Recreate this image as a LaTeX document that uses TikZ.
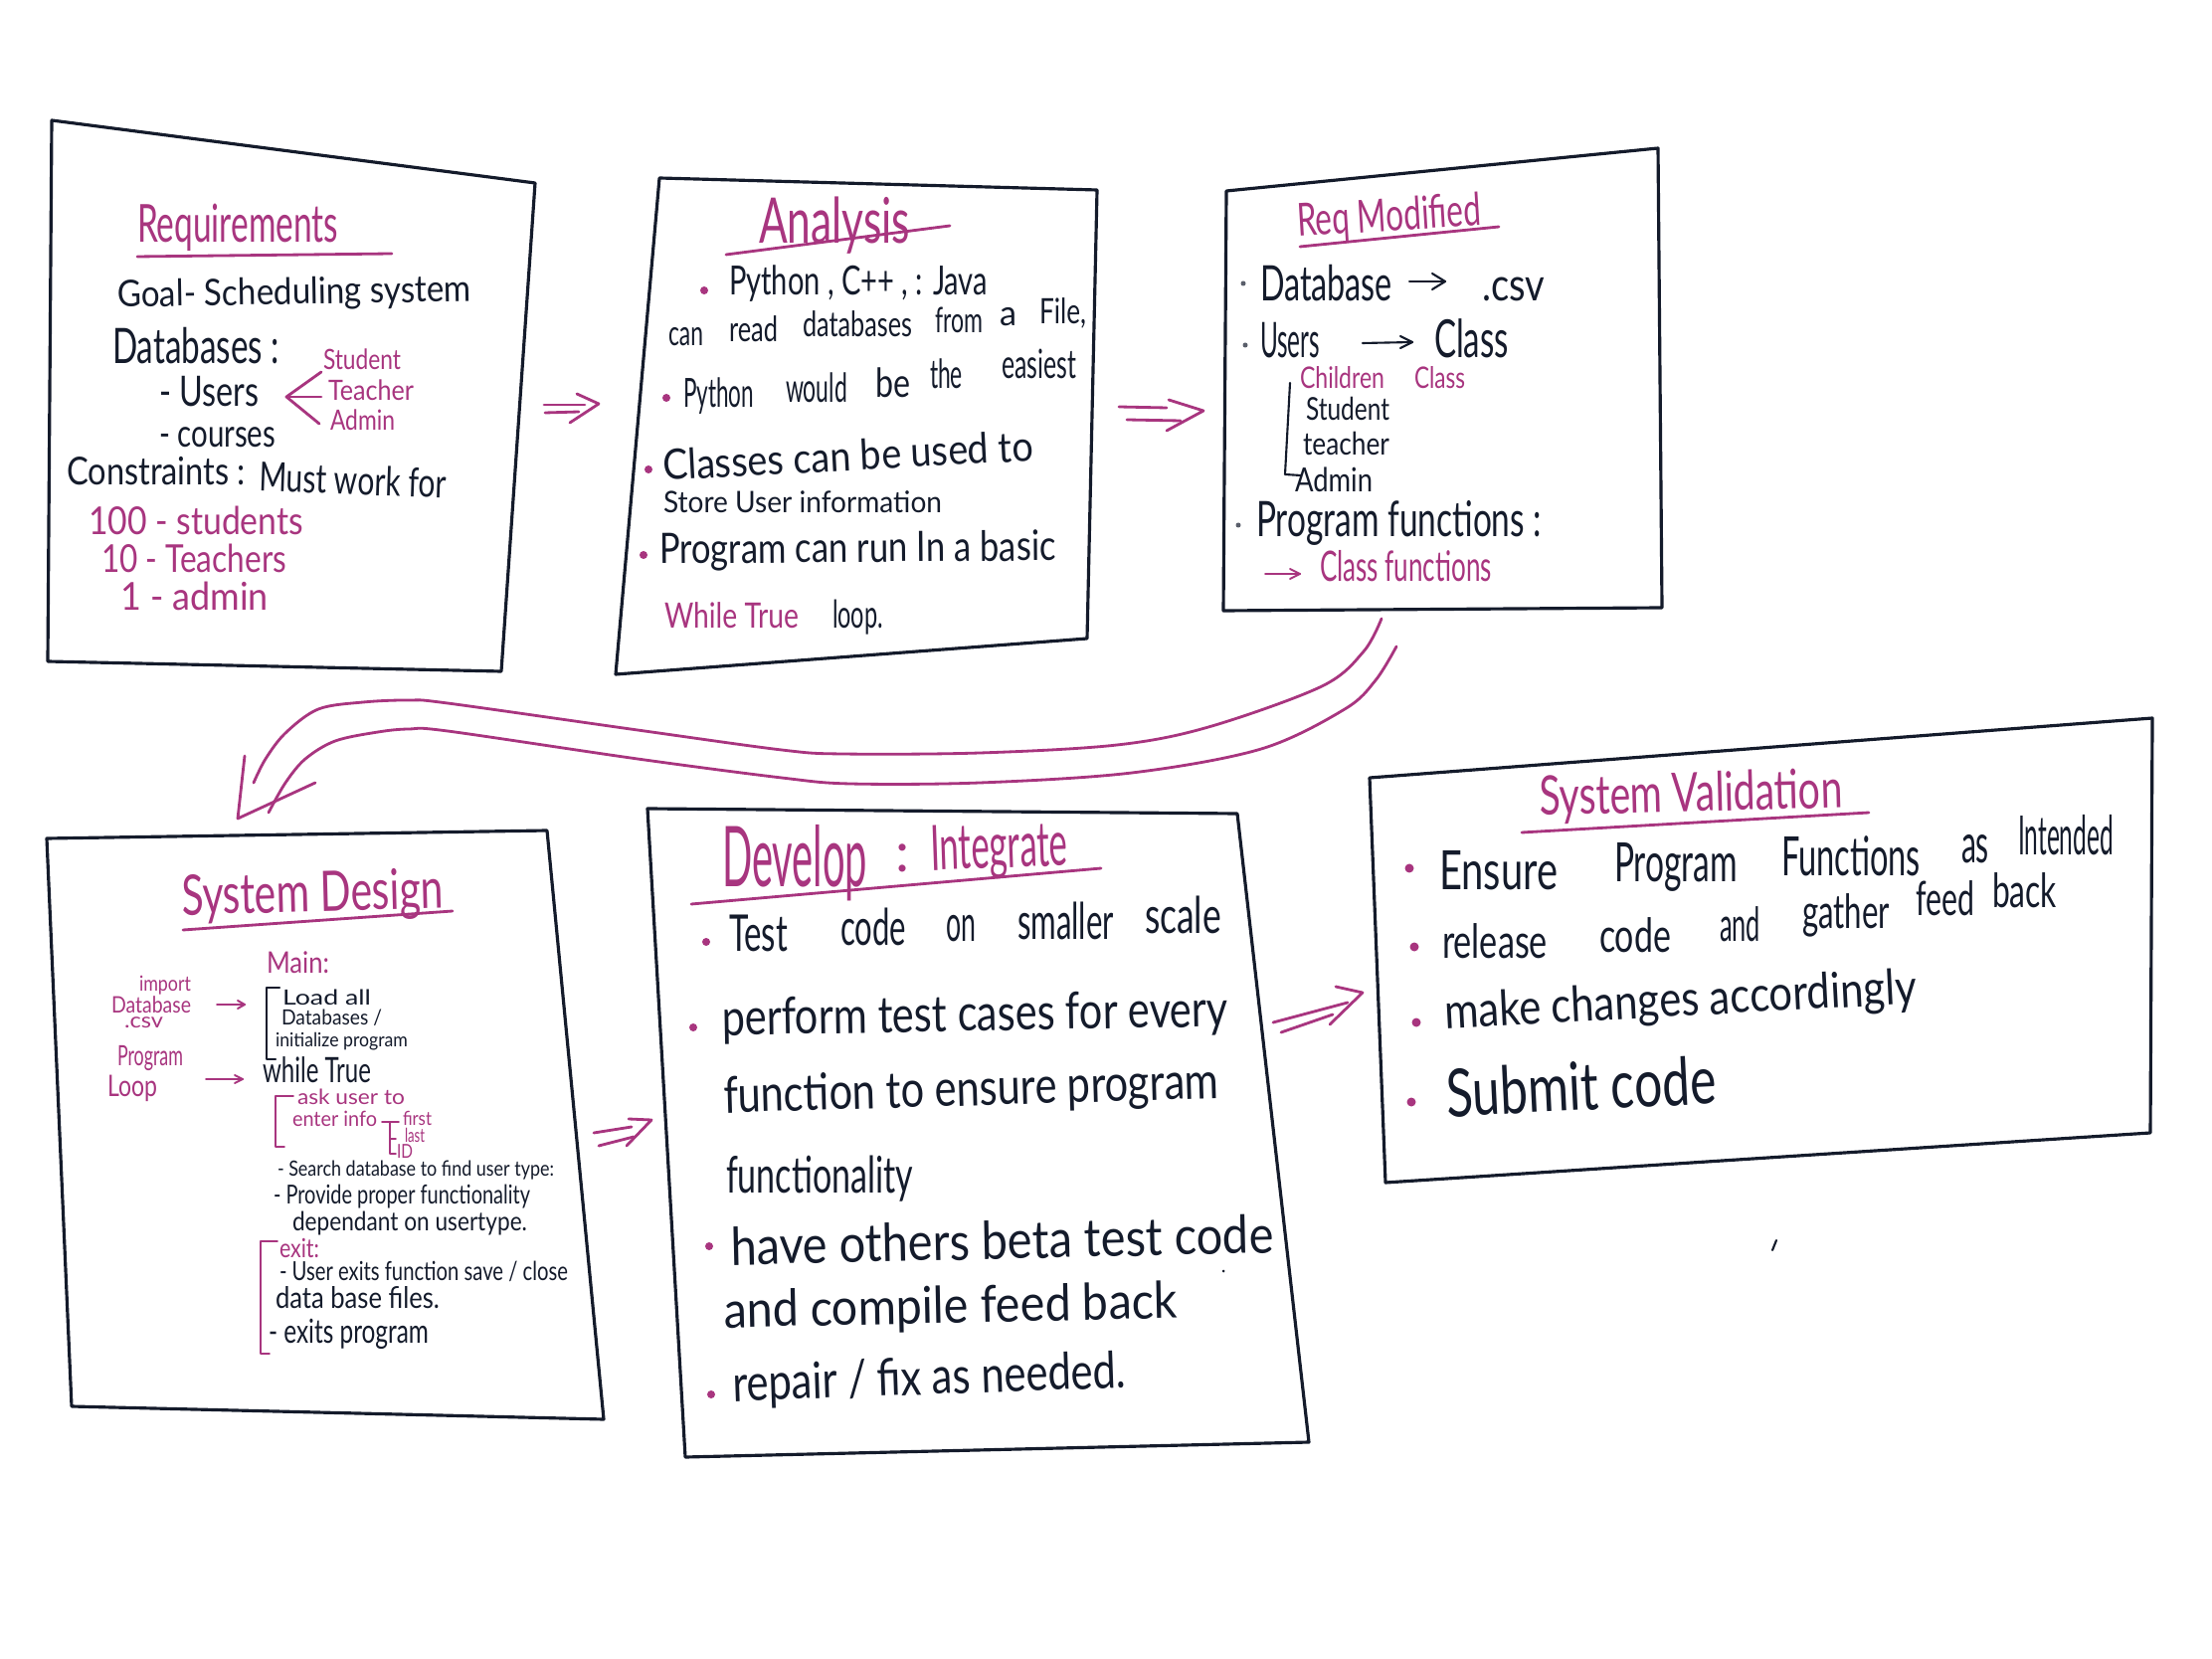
\documentclass[tikz,border=0pt]{standalone}
\usepackage{fontspec}
\setmainfont{Lato}
\usetikzlibrary{calc}
\definecolor{ink}{HTML}{141B2B}
\definecolor{mag}{HTML}{A8357F}
\newlength\pxu \setlength\pxu{0.1mm}
% fit a line of text to a given width (in drawing units), keeping its height
\newcommand\fw[2]{\resizebox{#1\pxu}{\height}{#2}}
\newcommand\hsz[1]{\fontsize{#1}{#1}\selectfont}

\begin{document}
\begin{tikzpicture}[x=0.1mm,y=-0.1mm,
  tx/.style={anchor=base west,inner sep=0pt,outer sep=0pt,text=ink},
  mg/.style={tx,text=mag},
  frame/.style={draw=ink,line width=0.9pt,line join=round},
  pen/.style={draw=mag,line width=0.8pt,line cap=round,line join=round},
  thinpen/.style={draw=mag,line width=0.55pt,line cap=round,line join=round},
  inkpen/.style={draw=ink,line width=0.6pt,line cap=round,line join=round},
  blob/.style={fill=mag},
  speck/.style={fill=ink!70}]
\fill[white] (0,0) rectangle (2224,1668);
\useasboundingbox (0,0) rectangle (2224,1668);

% ---------------- frames ----------------
\draw[frame] (52,121) -- (538,184) -- (504,675) -- (48,665) -- cycle;
\draw[frame] (663,179) -- (1103,191) -- (1093,642) -- (619,678) -- cycle;
\draw[frame] (1233,192) -- (1667,149) -- (1671,611) -- (1230,614) -- cycle;
\draw[frame] (47,843) -- (550,835) -- (607,1427) -- (72,1414) -- cycle;
\draw[frame] (651,813) -- (1244,818) -- (1316,1450) -- (689,1465) -- cycle;
\draw[frame] (1377,782) -- (2164,722) -- (2162,1139) -- (1393,1189) -- cycle;

% ---------------- Requirements ----------------
\node[mg,font=\hsz{15}] (req) at (138,244) {\fw{202}{Requirements}};
\draw[pen] (138,258) -- (394,255);
\node[tx,font=\hsz{10.5},rotate=1] (goal) at (118,309) {\fw{356}{Goal- Scheduling system}};
\node[tx,font=\hsz{14}] (dbs) at (113,366) {\fw{168}{Databases :}};
\node[mg,font=\hsz{8}] (rstu) at (325,372) {\fw{78}{Student}};
\node[mg,font=\hsz{8}] (rtea) at (330,403) {\fw{86}{Teacher}};
\node[mg,font=\hsz{8}] (radm) at (332,433) {\fw{65}{Admin}};
\node[tx,font=\hsz{12}] (rusr) at (160,409) {\fw{100}{- Users}};
\node[tx,font=\hsz{11}] (rcou) at (160,450) {\fw{117}{- courses}};
\coordinate (ua) at (323,374); \coordinate (ub) at (288,399);
\coordinate (uc) at (321,426); \coordinate (ud) at (323,399);
\draw[pen] (ua) -- (ub) -- (uc); \draw[pen] (ub) -- (ud);
\node[tx,font=\hsz{11}] (cons1) at (67,488) {\fw{180}{Constraints :}};
\node[tx,font=\hsz{11.5},rotate=-2] (cons2) at (260,494) {\fw{188}{Must work for}};
\node[mg,font=\hsz{11}] (c100) at (89,538) {\fw{216}{100 - students}};
\node[mg,font=\hsz{11}] (c10) at (102,576) {\fw{186}{10 - Teachers}};
\node[mg,font=\hsz{11}] (c1) at (121,614) {\fw{149}{1 - admin}};

% ---------------- Analysis ----------------
\node[mg,font=\hsz{18}] (ana) at (763,245) {\fw{152}{Analysis}};
\draw[pen] (730,256) -- (955,227);
\fill[blob] (708,292) circle (4);
\node[tx,font=\hsz{11.5}] (a1) at (733,297) {\fw{260}{Python , C++ , : Java}};
% second and third lines, word by word along rising baselines
\node[tx,font=\hsz{10}] (a2a) at (672,348) {\fw{35}{can}};
\node[tx,font=\hsz{10}] (a2b) at (733,344) {\fw{49}{read}};
\node[tx,font=\hsz{10}] (a2c) at (807,339) {\fw{110}{databases}};
\node[tx,font=\hsz{10}] (a2d) at (940,335) {\fw{48}{from}};
\node[tx,font=\hsz{10}] (a2e) at (1005,328) {\fw{17}{a}};
\node[tx,font=\hsz{10}] (a2f) at (1045,326) {\fw{47}{File,}};
\fill[blob] (670,400) circle (4);
\node[tx,font=\hsz{11.5}] (a3a) at (687,410) {\fw{71}{Python}};
\node[tx,font=\hsz{11.5}] (a3b) at (790,405) {\fw{62}{would}};
\node[tx,font=\hsz{11.5}] (a3c) at (880,400) {\fw{35}{be}};
\node[tx,font=\hsz{11.5}] (a3d) at (935,391) {\fw{33}{the}};
\node[tx,font=\hsz{11.5}] (a3e) at (1007,381) {\fw{75}{easiest}};
\fill[blob] (652,472) circle (4);
\node[tx,font=\hsz{12},rotate=3] (a4) at (667,483) {\fw{373}{Classes can be used to}};
\node[tx,font=\hsz{8.5}] (a5) at (667,516) {\fw{280}{Store User information}};
\fill[blob] (647,558) circle (4);
\node[tx,font=\hsz{12},rotate=0.5] (a6) at (663,567) {\fw{399}{Program can run In a basic}};
\node[mg,font=\hsz{10}] (a7) at (668,632) {\fw{135}{While True}};
\node[tx,font=\hsz{11}] (a8) at (837,632) {\fw{51}{loop.}};

% ---------------- Req Modified ----------------
\node[mg,font=\hsz{13},rotate=3.5] (rm) at (1305,238) {\fw{185}{Req Modified}};
\draw[pen] (1307,248) -- (1507,228);
\fill[speck] (1250,285) circle (2.5);
\node[tx,font=\hsz{14}] (m1) at (1267,303) {\fw{133}{Database}};
\coordinate (m1a) at (1417,283); \coordinate (m1b) at (1453,283);
\draw[inkpen] (m1a) -- (m1b); \draw[inkpen] ($(m1b)+(-13,-8)$) -- (m1b) -- ($(m1b)+(-13,8)$);
\node[tx,font=\hsz{13}] (m2) at (1490,303) {\fw{63}{.csv}};
\fill[speck] (1252,347) circle (2.5);
\node[tx,font=\hsz{14}] (m3) at (1267,360) {\fw{60}{Users}};
\coordinate (m3a) at (1370,345); \coordinate (m3b) at (1420,344);
\draw[inkpen] (m3a) -- (m3b); \draw[inkpen] ($(m3b)+(-12,-6)$) -- (m3b) -- ($(m3b)+(-12,6)$);
\node[tx,font=\hsz{15}] (m4) at (1442,360) {\fw{75}{Class}};
\node[mg,font=\hsz{8.5}] (m5) at (1307,391) {\fw{85}{Children}};
\node[mg,font=\hsz{8.5}] (m6) at (1422,391) {\fw{51}{Class}};
\draw[inkpen] (1297,385) -- (1292,477) -- (1308,478);
\node[tx,font=\hsz{9}] (m7) at (1313,423) {\fw{84}{Student}};
\node[tx,font=\hsz{9}] (m8) at (1310,458) {\fw{87}{teacher}};
\node[tx,font=\hsz{9.5}] (m9) at (1302,495) {\fw{78}{Admin}};
\fill[speck] (1245,528) circle (2.5);
\node[tx,font=\hsz{14}] (m10) at (1263,540) {\fw{287}{Program functions :}};
\coordinate (m11a) at (1272,577); \coordinate (m11b) at (1307,577);
\draw[thinpen] (m11a) -- (m11b); \draw[thinpen] ($(m11b)+(-10,-5)$) -- (m11b) -- ($(m11b)+(-10,5)$);
\node[mg,font=\hsz{12}] (m12) at (1327,585) {\fw{173}{Class functions}};

% ---------------- System Design ----------------
\node[mg,font=\hsz{16},rotate=1.5] (sd) at (183,920) {\fw{263}{System Design}};
\draw[pen] (184,935) -- (455,916);
\node[mg,font=\hsz{8.5}] (d1) at (268,978) {\fw{63}{Main:}};
\node[mg,font=\hsz{6}] (d2) at (140,996) {\fw{52}{import}};
\node[mg,font=\hsz{6.5}] (d3) at (112,1018) {\fw{80}{Database}};
\node[mg,font=\hsz{6}] (d4) at (125,1034) {\fw{39}{.csv}};
\coordinate (d5a) at (218,1010); \coordinate (d5b) at (246,1010);
\draw[thinpen] (d5a) -- (d5b); \draw[thinpen] ($(d5b)+(-7,-4)$) -- (d5b) -- ($(d5b)+(-7,4)$);
\draw[inkpen] (281,993) -- (268,993) -- (268,1065) -- (277,1065);
\node[tx,font=\hsz{6}] (d6) at (284,1010) {\fw{89}{Load all}};
\node[tx,font=\hsz{6}] (d7) at (283,1030) {\fw{101}{Databases /}};
\node[tx,font=\hsz{5.5}] (d8) at (277,1052) {\fw{133}{initialize program}};
\node[mg,font=\hsz{8}] (d9) at (118,1071) {\fw{66}{Program}};
\node[mg,font=\hsz{8.5}] (d10) at (108,1102) {\fw{50}{Loop}};
\coordinate (d11a) at (207,1085); \coordinate (d11b) at (244,1085);
\draw[thinpen] (d11a) -- (d11b); \draw[thinpen] ($(d11b)+(-8,-4)$) -- (d11b) -- ($(d11b)+(-8,4)$);
\node[tx,font=\hsz{10}] (d12) at (264,1088) {\fw{109}{while True}};
\draw[thinpen] (295,1102) -- (277,1102) -- (277,1153) -- (286,1153);
\node[mg,font=\hsz{6}] (d13) at (299,1110) {\fw{108}{ask user to}};
\node[mg,font=\hsz{6}] (d14) at (294,1132) {\fw{85}{enter info}};
\draw[thinpen] (384,1128) -- (401,1128); \draw[thinpen] (392,1128) -- (392,1160) -- (398,1160);
\draw[thinpen] (392,1145) -- (398,1145);
\node[mg,font=\hsz{5.5}] (d15) at (405,1131) {\fw{29}{first}};
\node[mg,font=\hsz{5.5}] (d16) at (407,1148) {\fw{20}{last}};
\node[mg,font=\hsz{5.5}] (d17) at (399,1164) {\fw{16}{ID}};
\node[tx,font=\hsz{6}] (d18) at (279,1182) {\fw{278}{- Search database to find user type:}};
\node[tx,font=\hsz{7.5}] (d19) at (275,1210) {\fw{258}{- Provide proper functionality}};
\node[tx,font=\hsz{7.5}] (d20) at (294,1237) {\fw{236}{dependant on usertype.}};
\draw[thinpen] (279,1248) -- (262,1248) -- (262,1361) -- (271,1361);
\node[mg,font=\hsz{7.5}] (d21) at (281,1264) {\fw{40}{exit:}};
\node[tx,font=\hsz{7.5}] (d22) at (281,1287) {\fw{290}{- User exits function save / close}};
\node[tx,font=\hsz{8.5}] (d23) at (277,1315) {\fw{165}{data base files.}};
\node[tx,font=\hsz{9.5}] (d24) at (270,1350) {\fw{161}{- exits program}};

% ---------------- Develop : Integrate ----------------
\node[mg,font=\hsz{24}] (dv1) at (726,891) {\fw{146}{Develop}};
\node[mg,font=\hsz{16}] (dv2) at (900,876) {:};
\node[mg,font=\hsz{18},rotate=2] (dv3) at (936,875) {\fw{138}{Integrate}};
\draw[pen] (695,909) -- (1107,873);
\fill[blob] (710,947) circle (4);
\node[tx,font=\hsz{14.5}] (v1a) at (733,956) {\fw{59}{Test}};
\node[tx,font=\hsz{14.5}] (v1b) at (845,950) {\fw{66}{code}};
\node[tx,font=\hsz{14.5}] (v1c) at (951,947) {\fw{30}{on}};
\node[tx,font=\hsz{14.5}] (v1d) at (1023,944) {\fw{97}{smaller}};
\node[tx,font=\hsz{14.5}] (v1e) at (1151,938) {\fw{77}{scale}};
\fill[blob] (697,1033) circle (4);
\node[tx,font=\hsz{14.5},rotate=1] (v2) at (726,1041) {\fw{509}{perform test cases for every}};
\node[tx,font=\hsz{14.5},rotate=1.7] (v3) at (728,1119) {\fw{498}{function to ensure program}};
\node[tx,font=\hsz{14.5}] (v4) at (730,1199) {\fw{188}{functionality}};
\fill[blob] (713,1253) circle (4);
\node[tx,font=\hsz{15},rotate=1.3] (v5) at (735,1272) {\fw{546}{have others beta test code}};
\node[tx,font=\hsz{14.5},rotate=1.2] (v6) at (728,1335) {\fw{456}{and compile feed back}};
\fill[blob] (715,1402) circle (4);
\node[tx,font=\hsz{14.5},rotate=2] (v7) at (737,1409) {\fw{396}{repair / fix as needed.}};
\fill[ink] (1230,1278) circle (1.5);

% ---------------- System Validation ----------------
\node[mg,font=\hsz{15.5},rotate=1.5] (sv) at (1548,820) {\fw{305}{System Validation}};
\draw[pen] (1530,837) -- (1879,817);
\fill[blob] (1417,873) circle (4.5);
% first two lines, word by word along rising baselines
\node[tx,font=\hsz{15.5}] (s1a) at (1447,895) {\fw{119}{Ensure}};
\node[tx,font=\hsz{15.5}] (s1b) at (1623,887) {\fw{124}{Program}};
\node[tx,font=\hsz{15.5}] (s1c) at (1791,881) {\fw{140}{Functions}};
\node[tx,font=\hsz{15.5}] (s1d) at (1972,868) {\fw{28}{as}};
\node[tx,font=\hsz{15.5}] (s1e) at (2029,860) {\fw{96}{Intended}};
\fill[blob] (1422,952) circle (4.5);
\node[tx,font=\hsz{13.5}] (s2a) at (1450,963) {\fw{106}{release}};
\node[tx,font=\hsz{13.5}] (s2b) at (1608,957) {\fw{72}{code}};
\node[tx,font=\hsz{13.5}] (s2c) at (1729,947) {\fw{41}{and}};
\node[tx,font=\hsz{13.5}] (s2d) at (1812,933) {\fw{88}{gather}};
\node[tx,font=\hsz{13.5}] (s2e) at (1926,920) {\fw{59}{feed}};
\node[tx,font=\hsz{13.5}] (s2f) at (2003,912) {\fw{65}{back}};
\fill[blob] (1424,1028) circle (4.5);
\node[tx,font=\hsz{14},rotate=3] (s3) at (1453,1034) {\fw{475}{make changes accordingly}};
\fill[blob] (1419,1108) circle (4.5);
\node[tx,font=\hsz{19},rotate=2.8] (s4) at (1455,1123) {\fw{272}{Submit code}};
\coordinate (tk1) at (1782,1257); \coordinate (tk2) at (1786,1247);
\draw[inkpen] (tk1) -- (tk2);

% ---------------- double arrows between steps ----------------
\coordinate (p1a) at (547,407); \coordinate (p1b) at (588,407);
\coordinate (p1c) at (548,415); \coordinate (p1d) at (582,414);
\coordinate (p1e) at (580,396); \coordinate (p1f) at (602,406); \coordinate (p1g) at (573,425);
\draw[pen] (p1a) -- (p1b); \draw[pen] (p1c) -- (p1d); \draw[pen] (p1e) -- (p1f) -- (p1g);

\coordinate (p2a) at (1125,409); \coordinate (p2b) at (1173,410);
\coordinate (p2c) at (1133,422); \coordinate (p2d) at (1187,423);
\coordinate (p2e) at (1175,402); \coordinate (p2f) at (1210,413); \coordinate (p2g) at (1173,433);
\draw[pen] (p2a) -- (p2b); \draw[pen] (p2c) -- (p2d); \draw[pen] (p2e) -- (p2f) -- (p2g);

\coordinate (p3a) at (597,1139); \coordinate (p3b) at (635,1133);
\coordinate (p3c) at (602,1152); \coordinate (p3d) at (637,1143);
\coordinate (p3e) at (632,1125); \coordinate (p3f) at (655,1126); \coordinate (p3g) at (630,1152);
\draw[pen] (p3a) -- (p3b); \draw[pen] (p3c) -- (p3d); \draw[pen] (p3e) -- (p3f) -- (p3g);

\coordinate (p4a) at (1280,1028); \coordinate (p4b) at (1355,1008);
\coordinate (p4c) at (1288,1038); \coordinate (p4d) at (1340,1020);
\coordinate (p4e) at (1343,992); \coordinate (p4f) at (1370,998); \coordinate (p4g) at (1337,1030);
\draw[pen] (p4a) -- (p4b); \draw[pen] (p4c) -- (p4d); \draw[pen] (p4e) -- (p4f) -- (p4g);

% ---------------- long return arrow ----------------
\coordinate (ra) at (1389,622); \coordinate (rb) at (255,787);
\coordinate (rc) at (1404,650); \coordinate (rd) at (270,817);
\draw[pen] plot[smooth,tension=0.55] coordinates {(ra) (1371,655) (1329,690) (1215,731) (1123,749)
  (985,757) (847,758) (786,754) (641,734) (450,707) (411,704) (365,706) (320,713) (287,737)
  (267,763) (rb)};
\draw[pen] plot[smooth,tension=0.55] coordinates {(rc) (1383,684) (1352,713) (1268,753) (1138,777)
  (985,787) (855,788) (786,782) (641,763) (450,735) (411,733) (380,736) (337,745) (307,763)
  (287,787) (rd)};
\coordinate (rh1) at (246,760); \coordinate (rh2) at (239,823); \coordinate (rh3) at (317,787);
\draw[pen] (rh1) -- (rh2) -- (rh3);

\end{tikzpicture}
\end{document}
